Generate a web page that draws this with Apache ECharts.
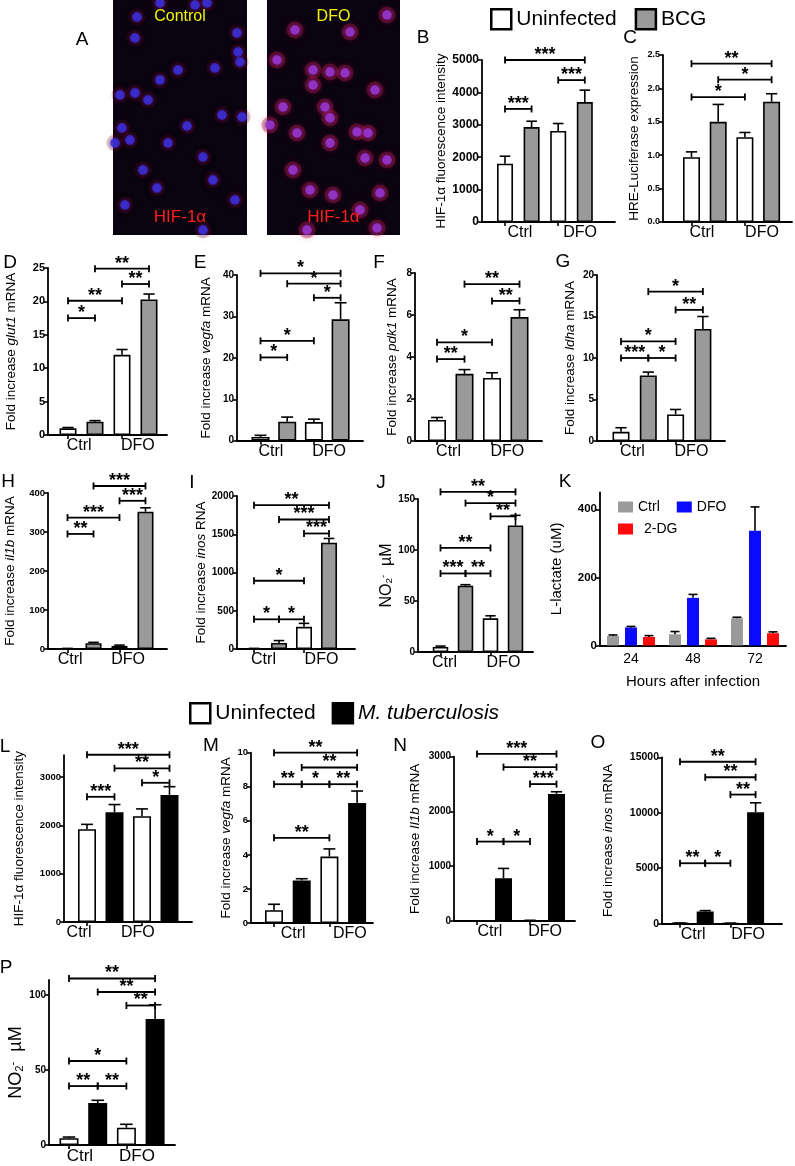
<!DOCTYPE html>
<html><head><meta charset="utf-8">
<script src="https://cdn.jsdelivr.net/npm/echarts@6/dist/echarts.min.js"></script>
<style>html,body{margin:0;padding:0;background:#fff}#c{width:795px;height:1166px}</style>
</head><body><div id="c"></div>
<script>
// ================= DATA =================
const conditions = ['Ctrl', 'DFO'];
const legendBCG = ['Uninfected', 'BCG'];
const legendMtb = ['Uninfected', 'M. tuberculosis'];
// bar order in every panel: Uninfected-Ctrl, Infected-Ctrl, Uninfected-DFO, Infected-DFO
// significance brackets: [fromBar, toBar, level, label]
const B_values = [1800, 2930, 2810, 3700];
const B_errors = [230, 180, 230, 370];
const B_ticks = [0, 1000, 2000, 3000, 4000, 5000];
const B_sig = [[0, 3, 5000, '***'], [2, 3, 4380, '***'], [0, 1, 3490, '***']];

const C_values = [0.97, 1.50, 1.27, 1.80];
const C_errors = [0.08, 0.26, 0.07, 0.12];
const C_ticks = [0, 0.5, 1.0, 1.5, 2.0, 2.5];
const C_sig = [[0, 3, 2.37, '**'], [1, 3, 2.13, '*'], [0, 2, 1.87, '*']];

const D_values = [1.0, 2.0, 12.0, 20.3];
const D_errors = [0.12, 0.15, 0.8, 0.8];
const D_ticks = [0, 5, 10, 15, 20, 25];
const D_sig = [[1, 3, 24.9, '**'], [2, 3, 22.6, '**'], [0, 2, 20.1, '**'], [0, 1, 17.5, '*']];

const E_values = [0.9, 4.6, 4.5, 29.3];
const E_errors = [0.4, 1.1, 0.7, 4.0];
const E_ticks = [0, 10, 20, 30, 40];
const E_sig = [[0, 3, 40.4, '*'], [1, 3, 37.9, '*'], [2, 3, 34.5, '*'], [0, 2, 24.1, '*'], [0, 1, 20.1, '*']];

const F_values = [1.0, 3.2, 3.0, 5.9];
const F_errors = [0.12, 0.2, 0.25, 0.35];
const F_ticks = [0, 2, 4, 6, 8];
const F_sig = [[1, 3, 7.47, '**'], [2, 3, 6.67, '**'], [0, 2, 4.7, '*'], [0, 1, 3.9, '**']];

const G_values = [1.1, 7.9, 3.2, 13.5];
const G_errors = [0.5, 0.4, 0.6, 1.5];
const G_ticks = [0, 5, 10, 15, 20];
const G_sig = [[1, 3, 18.0, '*'], [2, 3, 15.8, '**'], [0, 2, 12.0, '*'], [0, 1, 10.0, '***'], [1, 2, 10.0, '*']];

const H_values = [1, 15, 8, 352];
const H_errors = [0.5, 2, 2, 10];
const H_ticks = [0, 100, 200, 300, 400];
const H_sig = [[1, 3, 418, '***'], [2, 3, 380, '***'], [0, 2, 337, '***'], [0, 1, 295, '**']];

const I_values = [5, 80, 290, 1390];
const I_errors = [3, 30, 45, 55];
const I_ticks = [0, 500, 1000, 1500, 2000];
const I_sig = [[0, 3, 1880, '**'], [1, 3, 1693, '***'], [2, 3, 1510, '***'], [0, 2, 892, '*'], [0, 1, 388, '*'], [1, 2, 388, '*']];

const J_values = [5, 65, 33, 124];
const J_errors = [0.8, 1, 2.5, 10];
const J_ticks = [0, 50, 100, 150];
const J_sig = [[0, 3, 157, '**'], [1, 3, 146, '*'], [2, 3, 133, '**'], [0, 2, 102, '**'], [0, 1, 77, '***'], [1, 2, 77, '**']];

const K_hours = ['24', '48', '72'];
const K_groups = ['Ctrl', 'DFO', '2-DG'];
const K_ctrl = [28, 33, 80];
const K_ctrlErr = [3, 8, 3];
const K_dfo = [53, 140, 337];
const K_dfoErr = [3, 10, 70];
const K_2dg = [25, 18, 36];
const K_2dgErr = [4, 3, 4];
const K_ticks = [0, 200, 400];

const L_values = [1920, 2270, 2190, 2630];
const L_errors = [100, 160, 150, 170];
const L_ticks = [0, 1000, 2000, 3000];
const L_sig = [[0, 3, 3460, '***'], [1, 3, 3180, '**'], [2, 3, 2880, '*'], [0, 1, 2590, '***']];

const M_values = [0.75, 2.5, 3.9, 7.05];
const M_errors = [0.35, 0.1, 0.45, 0.7];
const M_ticks = [0, 2, 4, 6, 8, 10];
const M_sig = [[0, 3, 10.0, '**'], [1, 3, 9.13, '**'], [0, 1, 8.15, '**'], [1, 2, 8.15, '*'], [2, 3, 8.15, '**'], [0, 2, 5.0, '**']];

const N_values = [3, 780, 10, 2320];
const N_errors = [1, 180, 3, 40];
const N_ticks = [0, 1000, 2000, 3000];
const N_sig = [[0, 3, 3050, '***'], [1, 3, 2810, '**'], [2, 3, 2500, '***'], [0, 1, 1450, '*'], [1, 2, 1450, '*']];

const O_values = [50, 1100, 40, 10050];
const O_errors = [10, 80, 10, 850];
const O_ticks = [0, 5000, 10000, 15000];
const O_sig = [[0, 3, 14600, '**'], [1, 3, 13200, '**'], [2, 3, 11640, '**'], [0, 1, 5450, '**'], [1, 2, 5450, '*']];

const P_values = [4.5, 28, 11.5, 84];
const P_errors = [0.8, 1.8, 2.3, 9.5];
const P_ticks = [0, 50, 100];
const P_sig = [[0, 3, 111, '**'], [1, 3, 102, '**'], [2, 3, 93, '**'], [0, 2, 56, '*'], [0, 1, 39.3, '**'], [1, 2, 39.3, '**']];

// panel A: cell positions in the two micrographs (x, y inside each image)
const controlCells = [[24,17],[22,38],[124,33],[125,52],[127,62],[65,70],[102,68],[47,80],[7,95],[22,93],[35,100],[109,115],[129,117],[74,126],[9,128],[17,140],[55,143],[90,157],[2,143],[47,3],[82,5],[94,3],[44,188],[90,230],[30,170],[100,180],[122,200],[12,205]];
const dfoCells = [[28,30],[83,32],[46,70],[63,72],[78,73],[46,85],[108,90],[16,107],[58,107],[63,118],[30,133],[63,143],[90,132],[101,133],[98,158],[3,125],[26,170],[43,190],[66,195],[113,193],[93,210],[120,160],[10,60],[120,15],[110,228],[40,230]];

// ================= STYLE / LAYOUT =================
const FONT = '"Liberation Sans", Arial, Helvetica, sans-serif';
const GRAY = '#9a9a9a';
const AX = {color: '#000', width: 1.8};

const option = {
  animation: false, backgroundColor: '#fff',
  grid: [], xAxis: [], yAxis: [], series: [], legend: [],
  graphic: {elements: []}
};

function errRenderer(offsetPx, capHalf) {
  return function (params, api) {
    const x = api.value(0), v = api.value(1), e = api.value(2);
    const a = api.coord([x, v]), b = api.coord([x, v + e]);
    const ax = a[0] + offsetPx;
    return {type: 'group', children: [
      {type: 'line', shape: {x1: ax, y1: a[1], x2: ax, y2: b[1]}, style: {stroke: '#000', lineWidth: 1.6}},
      {type: 'line', shape: {x1: ax - capHalf, y1: b[1], x2: ax + capHalf, y2: b[1]}, style: {stroke: '#000', lineWidth: 1.6}}
    ]};
  };
}

function addLetter(t, x, y, size) {
  option.graphic.elements.push({type: 'text', x: x, y: y, z: 100,
    style: {text: t, fill: '#000', font: (size || 19) + 'px ' + FONT, align: 'center', verticalAlign: 'middle'}});
}

function buildBarPanel(p) {
  const gi = option.grid.length;
  const ppu = (p.y0 - p.tp) / p.tv;
  const top = p.y0 - ppu * p.yMax;
  option.grid.push({left: p.L, top: top, width: p.R - p.L, height: p.y0 - top});
  const xmin = (p.L - p.c0) / p.step, xmax = (p.R - p.c0) / p.step;
  const lab = p.labelPos;
  option.xAxis.push({
    type: 'value', gridIndex: gi, min: xmin, max: xmax, splitLine: {show: false},
    axisLine: {show: true, onZero: false, lineStyle: AX},
    axisTick: {show: true, customValues: [0, 2], length: 4, lineStyle: {color: '#000', width: 1.6}},
    axisLabel: {show: true, customValues: lab, margin: 3, color: '#000', fontFamily: FONT, fontSize: p.catFont || 16,
      formatter: function (v) {
        let best = 0;
        for (let k = 1; k < lab.length; k++) if (Math.abs(lab[k] - v) < Math.abs(lab[best] - v)) best = k;
        return conditions[best];
      }}
  });
  const tf = p.titleFont || 13.5;
  option.yAxis.push({
    type: 'value', gridIndex: gi, min: 0, max: p.yMax, splitLine: {show: false},
    axisLine: {show: true, onZero: false, lineStyle: AX},
    axisTick: {show: true, customValues: p.ticks, length: 4, lineStyle: {color: '#000', width: 1.6}},
    axisLabel: {show: true, customValues: p.ticks, margin: 3, color: '#000', fontFamily: FONT, fontWeight: 'bold', fontSize: p.tickFont,
      formatter: p.fmt || function (v) { return String(v); }},
    name: p.title, nameLocation: 'middle', nameRotate: 90, nameGap: p.gap,
    nameTextStyle: {fontSize: tf, fontFamily: FONT, color: '#000',
      rich: {
        i: {fontStyle: 'italic', fontSize: tf, fontFamily: FONT, color: '#000'},
        sub: {fontSize: tf * 0.62, fontFamily: FONT, color: '#000', verticalAlign: 'bottom', padding: [tf * 0.35, 0, 0, 0]},
        sup: {fontSize: tf * 0.62, fontFamily: FONT, color: '#000', verticalAlign: 'top', padding: [0, 0, tf * 0.35, 0]}
      }}
  });
  const v = p.values;
  option.series.push({type: 'bar', name: 'Uninfected', xAxisIndex: gi, yAxisIndex: gi, barWidth: p.bw, barGap: '-100%',
    itemStyle: {color: '#fff', borderColor: '#000', borderWidth: 1.6}, data: [[0, v[0]], [2, v[2]]], z: 2});
  option.series.push({type: 'bar', name: p.infected, xAxisIndex: gi, yAxisIndex: gi, barWidth: p.bw, barGap: '-100%',
    itemStyle: {color: p.fill, borderColor: '#000', borderWidth: 1.6}, data: [[1, v[1]], [3, v[3]]], z: 2});
  option.series.push({type: 'custom', xAxisIndex: gi, yAxisIndex: gi, clip: false, silent: true, z: 3,
    encode: {x: 0, y: 1}, data: v.map((val, i) => [i, val, p.errors[i]]), renderItem: errRenderer(0, p.bw * 0.33)});
  const sig = p.sig;
  option.series.push({type: 'custom', xAxisIndex: gi, yAxisIndex: gi, clip: false, silent: true, z: 4,
    encode: {x: [0, 1], y: 2}, data: sig.map(s => [s[0], s[1], s[2]]),
    renderItem: function (params, api) {
      const a = api.coord([api.value(0), api.value(2)]);
      const b = api.coord([api.value(1), api.value(2)]);
      const h = 3.5, lbl = sig[params.dataIndex][3];
      const ls = {stroke: '#000', lineWidth: 1.8};
      return {type: 'group', children: [
        {type: 'line', shape: {x1: a[0], y1: a[1], x2: b[0], y2: b[1]}, style: ls},
        {type: 'line', shape: {x1: a[0], y1: a[1] - h, x2: a[0], y2: a[1] + h}, style: ls},
        {type: 'line', shape: {x1: b[0], y1: b[1] - h, x2: b[0], y2: b[1] + h}, style: ls},
        {type: 'text', style: {text: lbl, x: (a[0] + b[0]) / 2, y: a[1] - 5, align: 'center', verticalAlign: 'middle',
          font: 'bold ' + (p.starFont || 18) + 'px ' + FONT, fill: '#000'}}
      ]};
    }});
  addLetter(p.key, p.letter[0], p.letter[1]);
}

const panels = [
  {key: 'B', values: B_values, errors: B_errors, ticks: B_ticks, sig: B_sig, infected: 'BCG', fill: GRAY,
   L: 482, R: 615, c0: 505, step: 26.6, bw: 16, y0: 222, tv: 5000, tp: 60, yMax: 5000, tickFont: 12,
   title: 'HIF-1α fluorescence intensity', gap: 34, labelPos: [0.56, 2.82], letter: [423, 38]},
  {key: 'C', values: C_values, errors: C_errors, ticks: C_ticks, sig: C_sig, infected: 'BCG', fill: GRAY,
   L: 663, R: 792, c0: 691.5, step: 26.7, bw: 17, y0: 222, tv: 2.5, tp: 55, yMax: 2.5, tickFont: 9,
   fmt: function (v) { return v.toFixed(1); },
   title: 'HRE-Luciferase expression', gap: 22, labelPos: [0.39, 2.64], letter: [630, 38]},
  {key: 'D', values: D_values, errors: D_errors, ticks: D_ticks, sig: D_sig, infected: 'BCG', fill: GRAY,
   L: 48, R: 167, c0: 68, step: 27, bw: 17, y0: 435, tv: 25, tp: 268, yMax: 25, tickFont: 11,
   title: 'Fold increase {i|glut1} mRNA', gap: 30, labelPos: [0.41, 2.59], letter: [10, 263]},
  {key: 'E', values: E_values, errors: E_errors, ticks: E_ticks, sig: E_sig, infected: 'BCG', fill: GRAY,
   L: 237, R: 363, c0: 260.5, step: 26.7, bw: 18, y0: 440.7, tv: 40, tp: 275, yMax: 40, tickFont: 10,
   title: 'Fold increase {i|vegfa} mRNA', gap: 24, labelPos: [0.39, 2.57], letter: [200, 263]},
  {key: 'F', values: F_values, errors: F_errors, ticks: F_ticks, sig: F_sig, infected: 'BCG', fill: GRAY,
   L: 415, R: 542, c0: 437, step: 27.5, bw: 18, y0: 441, tv: 8, tp: 273, yMax: 8, tickFont: 10,
   title: 'Fold increase {i|pdk1} mRNA', gap: 16, labelPos: [0.42, 2.56], letter: [379, 263]},
  {key: 'G', values: G_values, errors: G_errors, ticks: G_ticks, sig: G_sig, infected: 'BCG', fill: GRAY,
   L: 597, R: 725, c0: 621, step: 27.3, bw: 17, y0: 441, tv: 20, tp: 275, yMax: 20, tickFont: 10,
   title: 'Fold increase {i|ldha} mRNA', gap: 20, labelPos: [0.42, 2.58], letter: [563, 262]},
  {key: 'H', values: H_values, errors: H_errors, ticks: H_ticks, sig: H_sig, infected: 'BCG', fill: GRAY,
   L: 48, R: 167, c0: 67.5, step: 26, bw: 16, y0: 649, tv: 400, tp: 493, yMax: 400, tickFont: 9.5,
   title: 'Fold increase {i|il1b} mRNA', gap: 31, labelPos: [0.1, 2.33], letter: [8, 482]},
  {key: 'I', values: I_values, errors: I_errors, ticks: I_ticks, sig: I_sig, infected: 'BCG', fill: GRAY,
   L: 237, R: 355, c0: 254, step: 25, bw: 16, y0: 649, tv: 2000, tp: 496, yMax: 2000, tickFont: 10,
   title: 'Fold increase {i|inos} RNA', gap: 27, labelPos: [0.38, 2.7], letter: [192, 483]},
  {key: 'J', values: J_values, errors: J_errors, ticks: J_ticks, sig: J_sig, infected: 'BCG', fill: GRAY,
   L: 418, R: 533, c0: 440.5, step: 25, bw: 15.5, y0: 652, tv: 150, tp: 499, yMax: 150, tickFont: 10,
   title: 'NO{sub|2}{sup|-}  µM', titleFont: 16, gap: 22, labelPos: [0.16, 2.52], letter: [381, 483]},
  {key: 'L', values: L_values, errors: L_errors, ticks: L_ticks, sig: L_sig, infected: 'M. tuberculosis', fill: '#000',
   L: 64, R: 192, c0: 87, step: 27.5, bw: 18, y0: 922, tv: 3000, tp: 777, yMax: 3450, tickFont: 9.5,
   title: 'HIF-1α fluorescence intensity', gap: 38, labelPos: [-0.29, 1.85], letter: [5, 747]},
  {key: 'M', values: M_values, errors: M_errors, ticks: M_ticks, sig: M_sig, infected: 'M. tuberculosis', fill: '#000',
   L: 251, R: 373, c0: 274, step: 27.7, bw: 18, y0: 923, tv: 10, tp: 752.7, yMax: 10, tickFont: 9.5,
   title: 'Fold increase {i|vegfa} mRNA', gap: 16, labelPos: [0.69, 2.74], letter: [211, 746]},
  {key: 'N', values: N_values, errors: N_errors, ticks: N_ticks, sig: N_sig, infected: 'M. tuberculosis', fill: '#000',
   L: 454, R: 575, c0: 477, step: 26.5, bw: 17, y0: 921, tv: 3000, tp: 756.7, yMax: 3000, tickFont: 10,
   title: 'Fold increase {i|Il1b} mRNA', gap: 32, labelPos: [0.49, 2.57], letter: [400, 746]},
  {key: 'O', values: O_values, errors: O_errors, ticks: O_ticks, sig: O_sig, infected: 'M. tuberculosis', fill: '#000',
   L: 662, R: 782, c0: 680, step: 25.2, bw: 17, y0: 923.7, tv: 15000, tp: 757.3, yMax: 15000, tickFont: 10.5,
   title: 'Fold increase {i|inos} mRNA', gap: 47, labelPos: [0.52, 2.7], letter: [598, 743]},
  {key: 'P', values: P_values, errors: P_errors, ticks: P_ticks, sig: P_sig, infected: 'M. tuberculosis', fill: '#000',
   L: 49, R: 175, c0: 69, step: 28.7, bw: 19, y0: 1145, tv: 100, tp: 995, yMax: 110, tickFont: 10,
   title: 'NO{sub|2}{sup|-}  µM', titleFont: 18, gap: 14, catFont: 17, labelPos: [0.38, 2.37], letter: [6, 968]}
];
panels.forEach(buildBarPanel);

// ---------- panel K ----------
(function buildK() {
  const gi = option.grid.length;
  const y0 = 645.5, tp = 509.3, tv = 400, yMax = 450;
  const ppu = (y0 - tp) / tv, top = y0 - ppu * yMax;
  option.grid.push({left: 600, top: top, width: 186, height: y0 - top});
  option.xAxis.push({type: 'category', gridIndex: gi, data: K_hours,
    axisLine: {show: true, lineStyle: AX}, axisTick: {show: false},
    axisLabel: {fontSize: 14, color: '#000', fontFamily: FONT, margin: 7},
    name: 'Hours after infection', nameLocation: 'middle', nameGap: 29,
    nameTextStyle: {fontSize: 15, color: '#000', fontFamily: FONT}});
  option.yAxis.push({type: 'value', gridIndex: gi, min: 0, max: yMax, splitLine: {show: false},
    axisLine: {show: true, lineStyle: AX},
    axisTick: {show: true, customValues: K_ticks, length: 4, lineStyle: {color: '#000', width: 1.6}},
    axisLabel: {customValues: K_ticks, fontWeight: 'bold', fontSize: 11.5, color: '#000', fontFamily: FONT, margin: 3,
      formatter: function (v) { return String(v); }},
    name: 'L-lactate (uM)', nameLocation: 'middle', nameRotate: 90, nameGap: 36,
    nameTextStyle: {fontSize: 15, color: '#000', fontFamily: FONT}});
  const sets = [
    [K_groups[0], K_ctrl, K_ctrlErr, GRAY, -18],
    [K_groups[1], K_dfo, K_dfoErr, '#0a0aff', 0],
    [K_groups[2], K_2dg, K_2dgErr, '#ff0a0a', 18]
  ];
  sets.forEach(s => option.series.push({type: 'bar', name: s[0], xAxisIndex: gi, yAxisIndex: gi,
    barWidth: 12, barGap: '50%', itemStyle: {color: s[3]}, data: s[1]}));
  sets.forEach(s => option.series.push({type: 'custom', xAxisIndex: gi, yAxisIndex: gi, clip: false, silent: true, z: 3,
    encode: {x: 0, y: 1}, data: s[1].map((v, i) => [i, v, s[2][i]]), renderItem: errRenderer(s[4], 4.5)}));
  addLetter('K', 565, 482);
})();

// ---------- panel A (micrographs) ----------
(function buildA() {
  const imgs = [
    {left: 113, width: 134, cells: controlCells, halo: 'rgba(110,10,40,0.28)', haloSize: 17, nuc: '#3a30d8', label: 'Control'},
    {left: 267, width: 133, cells: dfoCells, halo: 'rgba(185,25,75,0.5)', haloSize: 17, nuc: '#a238cf', label: 'DFO'}
  ];
  imgs.forEach(im => {
    const gi = option.grid.length;
    option.grid.push({left: im.left, top: 0, width: im.width, height: 235, show: true,
      backgroundColor: '#0a0310', borderWidth: 0});
    option.xAxis.push({type: 'value', gridIndex: gi, min: 0, max: im.width, show: false});
    option.yAxis.push({type: 'value', gridIndex: gi, min: 0, max: 235, inverse: true, show: false});
    option.series.push({type: 'scatter', xAxisIndex: gi, yAxisIndex: gi, silent: true, symbolSize: im.haloSize,
      itemStyle: {color: im.halo, shadowBlur: 6, shadowColor: im.halo}, data: im.cells});
    option.series.push({type: 'scatter', xAxisIndex: gi, yAxisIndex: gi, silent: true, symbolSize: 9.5,
      itemStyle: {color: im.nuc, shadowBlur: 3, shadowColor: '#4a20b0'}, data: im.cells});
    const cx = im.left + im.width / 2;
    option.graphic.elements.push({type: 'text', x: cx, y: 17, z: 100,
      style: {text: im.label, fill: '#f4f400', font: '16px ' + FONT, align: 'center', verticalAlign: 'middle'}});
    option.graphic.elements.push({type: 'text', x: cx, y: 217, z: 100,
      style: {text: 'HIF-1α', fill: '#ff1e1e', font: '17px ' + FONT, align: 'center', verticalAlign: 'middle'}});
  });
  addLetter('A', 82, 40);
})();

// ---------- legends ----------
const bigLegendText = {fontSize: 21, fontFamily: FONT, color: '#000',
  rich: {it: {fontStyle: 'italic', fontSize: 21, fontFamily: FONT, color: '#000'}}};
option.legend.push({left: 485, top: 3, itemWidth: 20, itemHeight: 20, itemGap: 18, selectedMode: false, icon: 'rect',
  textStyle: bigLegendText,
  data: [{name: legendBCG[0], itemStyle: {color: '#fff', borderColor: '#000', borderWidth: 2.5}},
         {name: legendBCG[1], itemStyle: {color: GRAY, borderColor: '#000', borderWidth: 2.5}}]});
option.legend.push({left: 184, top: 697, itemWidth: 20, itemHeight: 20, itemGap: 16, selectedMode: false, icon: 'rect',
  textStyle: bigLegendText,
  formatter: function (n) { return n === legendMtb[1] ? '{it|' + n + '}' : n; },
  data: [{name: legendMtb[0], itemStyle: {color: '#fff', borderColor: '#000', borderWidth: 2.5}},
         {name: legendMtb[1], itemStyle: {color: '#000', borderColor: '#000', borderWidth: 2.5}}]});
option.legend.push({left: 613, top: 495, itemWidth: 15, itemHeight: 11, itemGap: 17, selectedMode: false, icon: 'rect',
  textStyle: {fontSize: 14, fontFamily: FONT, color: '#000'}, data: [K_groups[0], K_groups[1]]});
option.legend.push({left: 613, top: 517, itemWidth: 15, itemHeight: 11, selectedMode: false, icon: 'rect',
  textStyle: {fontSize: 14, fontFamily: FONT, color: '#000', padding: [0, 0, 0, 6]}, data: [K_groups[2]]});

const chart = echarts.init(document.getElementById('c'), null, {renderer: 'canvas', width: 795, height: 1166});
chart.setOption(option);
</script>
</body></html>
